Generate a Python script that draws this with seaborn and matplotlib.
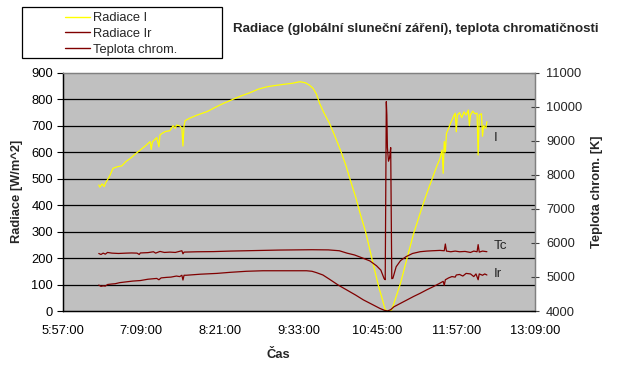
import numpy as np
import pandas as pd
import seaborn as sns
import matplotlib
matplotlib.use("Agg")
import matplotlib.pyplot as plt
from matplotlib.lines import Line2D
from matplotlib.patches import Rectangle
from matplotlib.ticker import FixedLocator, FuncFormatter

# global radiation I [W/m^2]
i_time = ["6:30", "6:31", "6:33", "6:35", "6:36", "6:40", "6:43", "6:47", "6:51", "6:55",
          "6:59", "7:04", "7:08", "7:13", "7:17", "7:18", "7:19", "7:23", "7:25", "7:26",
          "7:28", "7:31", "7:35", "7:38", "7:40", "7:41", "7:44", "7:46", "7:47", "7:48",
          "7:49", "7:53", "8:00", "8:09", "8:17", "8:24", "8:33", "8:40", "8:48", "8:56",
          "9:04", "9:12", "9:19", "9:27", "9:34", "9:39", "9:43", "9:46", "9:49", "9:52",
          "9:56", "10:01", "10:06", "10:11", "10:16", "10:20", "10:25", "10:29", "10:34", "10:38",
          "10:42", "10:46", "10:49", "10:52", "10:55", "10:58", "11:02", "11:06", "11:12", "11:18",
          "11:24", "11:30", "11:35", "11:39", "11:42", "11:44", "11:45", "11:46", "11:47", "11:48",
          "11:50", "11:52", "11:53", "11:55", "11:56", "11:57", "11:58", "12:00", "12:02", "12:04",
          "12:06", "12:08", "12:09", "12:10", "12:12", "12:14", "12:16", "12:17", "12:18", "12:20",
          "12:21", "12:22", "12:24", "12:25"]
i_vals = [476, 468, 480, 470, 482, 510, 539, 545, 548, 565,
          577, 595, 608, 625, 640, 610, 638, 655, 620, 665,
          671, 678, 681, 700, 690, 702, 700, 690, 623, 700,
          719, 728, 740, 753, 770, 784, 800, 812, 824, 838,
          847, 852, 856, 860, 866, 862, 852, 841, 820, 784,
          748, 709, 660, 608, 550, 495, 430, 369, 300, 230,
          160, 92, 50, 4, 0, 4, 55, 105, 200, 293,
          370, 444, 500, 545, 575, 608, 520, 640, 600, 671,
          690, 712, 721, 740, 747, 677, 740, 749, 730, 752,
          740, 759, 700, 740, 755, 745, 747, 589, 740, 745,
          660, 700, 690, 715]

# reflected radiation Ir [W/m^2]
ir_time = ["6:30", "6:32", "6:34", "6:36", "6:38", "6:42", "6:45", "6:49", "6:55", "7:01",
           "7:08", "7:15", "7:23", "7:25", "7:27", "7:32", "7:36", "7:41", "7:44", "7:46",
           "7:47", "7:48", "7:50", "8:03", "8:18", "8:30", "8:45", "9:00", "9:20", "9:40",
           "9:45", "9:49", "9:55", "10:01", "10:09", "10:17", "10:25", "10:32", "10:40", "10:47",
           "10:51", "10:54", "10:57", "11:00", "11:06", "11:12", "11:18", "11:24", "11:30", "11:36",
           "11:42", "11:45", "11:46", "11:47", "11:50", "11:53", "11:56", "11:57", "12:00", "12:03",
           "12:06", "12:10", "12:13", "12:15", "12:17", "12:18", "12:21", "12:23", "12:25"]
ir_vals = [98, 93, 95, 94, 100, 102, 103, 107, 110, 113,
           115, 120, 123, 118, 125, 127, 128, 132, 130, 135,
           117, 135, 135, 139, 142, 146, 150, 152, 152, 152,
           150, 145, 136, 120, 98, 79, 60, 42, 25, 10,
           3, 0, 5, 16, 29, 42, 55, 67, 80, 92,
           105, 112, 97, 118, 125, 130, 128, 136, 138, 132,
           142, 140, 130, 140, 118, 140, 135, 140, 136]

# colour temperature Tc [K]
tc_time = ["6:30", "6:32", "6:34", "6:36", "6:38", "6:42", "6:48", "6:55", "7:00", "7:05",
           "7:07", "7:08", "7:15", "7:20", "7:22", "7:26", "7:30", "7:35", "7:40", "7:46",
           "7:47", "7:48", "8:00", "8:15", "8:30", "8:45", "9:00", "9:15", "9:30", "9:45",
           "10:00", "10:10", "10:17", "10:24", "10:31", "10:38", "10:44", "10:48", "10:51", "10:52",
           "10:53", "10:53:30", "10:54", "10:55", "10:56", "10:57", "10:58", "10:59", "11:02", "11:06",
           "11:11", "11:17", "11:24", "11:30", "11:36", "11:42", "11:46", "11:47", "11:48", "11:52",
           "11:56", "12:00", "12:05", "12:10", "12:13", "12:16", "12:17", "12:18", "12:21", "12:25"]
tc_vals = [5690, 5660, 5700, 5670, 5720, 5700, 5690, 5700, 5705, 5700,
           5660, 5705, 5715, 5740, 5700, 5750, 5720, 5730, 5720, 5770,
           5680, 5730, 5740, 5745, 5760, 5770, 5780, 5790, 5795, 5800,
           5795, 5770, 5700, 5645, 5560, 5470, 5330, 5200, 4950, 4920,
           10150, 9750, 8800, 8400, 8500, 8800, 4950, 4960, 5300, 5480,
           5595, 5690, 5742, 5760, 5771, 5780, 5770, 5968, 5760, 5740,
           5760, 5740, 5750, 5720, 5760, 5740, 5950, 5730, 5760, 5742]

x_ticks = ["5:57:00", "7:09:00", "8:21:00", "9:33:00", "10:45:00", "11:57:00", "13:09:00"]


def minutes(labels):
    out = []
    for s in labels:
        parts = [int(p) for p in s.split(":")]
        while len(parts) < 3:
            parts.append(0)
        out.append(parts[0] * 60 + parts[1] + parts[2] / 60)
    return out


df_i = pd.DataFrame({"t": minutes(i_time), "v": i_vals})
df_ir = pd.DataFrame({"t": minutes(ir_time), "v": ir_vals})
df_tc = pd.DataFrame({"t": minutes(tc_time), "v": tc_vals})

sns.set_style("white")
plt.rcParams["font.family"] = ["Liberation Sans", "DejaVu Sans"]

yellow = "#FFFF00"
dred = "#800000"
fs = 9.3

fig = plt.figure(figsize=(6.31, 3.65), dpi=100)
ax = fig.add_axes([62.7 / 631, 1 - 311 / 365, 472.3 / 631, 238.3 / 365])
ax.set_facecolor("#C0C0C0")
ax2 = ax.twinx()

sns.lineplot(data=df_i, x="t", y="v", ax=ax, color=yellow, lw=0.9, estimator=None, sort=False)
sns.lineplot(data=df_ir, x="t", y="v", ax=ax, color=dred, lw=0.9, estimator=None, sort=False)
sns.lineplot(data=df_tc, x="t", y="v", ax=ax2, color=dred, lw=0.9, estimator=None, sort=False)

xt = minutes(x_ticks)
ax.set_xlim(xt[0], xt[-1])
ax.set_ylim(0, 900)
ax2.set_ylim(4000, 11000)
ax.xaxis.set_major_locator(FixedLocator(xt))
ax.set_xticklabels(x_ticks)
ax.set_yticks(range(0, 901, 100))
ax2.set_yticks(range(4000, 11001, 1000))

for yv in range(100, 900, 100):
    ax.axhline(yv, color="black", lw=0.9, zorder=1)

ax.tick_params(axis="both", labelsize=fs, colors="black", length=4, width=0.8, direction="out")
ax.tick_params(axis="x", pad=6)
ax.tick_params(axis="y", pad=3)
ax2.tick_params(axis="y", labelsize=fs, length=6, width=0.8, direction="inout", pad=5, color="#404040")

for a in (ax, ax2):
    a.spines["left"].set_color("black")
    a.spines["bottom"].set_color("black")
    a.spines["top"].set_color("#808080")
    a.spines["right"].set_color("#808080")
    for s in a.spines.values():
        s.set_linewidth(0.9)

ax.set_xlabel("Čas", fontsize=fs, fontweight="bold")
ax.set_ylabel("Radiace [W/m^2]", fontsize=fs, fontweight="bold")
ax2.set_ylabel("Teplota chrom. [K]", fontsize=fs, fontweight="bold")
ax.xaxis.set_label_coords(0.456, -0.16)
ax.yaxis.set_label_coords(-0.084, 0.5)
ax2.yaxis.set_label_coords(1.119, 0.5)

# series labels at right end
lab_t = minutes(["12:31"])[0]
ax.text(lab_t, 653, "I", fontsize=fs + 0.3, va="center", ha="left")
ax.text(lab_t, 245, "Tc", fontsize=fs + 0.3, va="center", ha="left")
ax.text(lab_t, 140, "Ir", fontsize=fs + 0.3, va="center", ha="left")

fig.text(233 / 631, 1 - 29 / 365, "Radiace (globální sluneční záření), teplota chromatičnosti",
         fontsize=9.6, fontweight="bold", ha="left", va="center")

# legend
handles = [Line2D([], [], color=yellow, lw=1), Line2D([], [], color=dred, lw=1),
           Line2D([], [], color=dred, lw=1)]
leg = fig.legend(handles, ["Radiace I", "Radiace Ir", "Teplota chrom."],
                 loc="upper left", bbox_to_anchor=(65 / 631, 1 - 12 / 365),
                 frameon=False, fontsize=9.3, borderpad=0, borderaxespad=0,
                 handlelength=1.9, handletextpad=0.25, labelspacing=0.3)
fig.add_artist(Rectangle((22 / 631, 1 - 58 / 365), 200 / 631, 51 / 365,
                         transform=fig.transFigure, fill=False, edgecolor="black", lw=0.9))

fig.savefig("out.png", dpi=100, facecolor="white")
